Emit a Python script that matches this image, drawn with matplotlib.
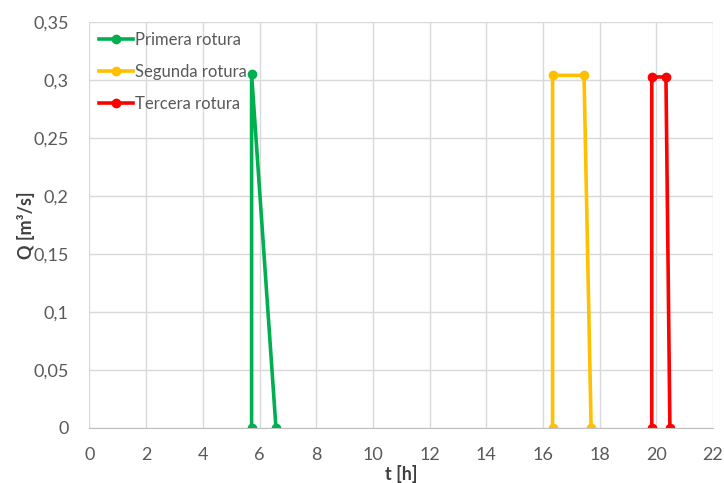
import matplotlib.pyplot as plt
from matplotlib.ticker import FuncFormatter, MultipleLocator

plt.rcParams['font.family'] = ['Lato', 'DejaVu Sans']

# caudal de rotura en cada evento
t1 = [5.72, 5.72, 6.58]
q1 = [0, 0.305, 0]
t2 = [16.34, 16.34, 17.45, 17.70]
q2 = [0, 0.304, 0.304, 0]
t3 = [19.84, 19.84, 20.34, 20.48]
q3 = [0, 0.3026, 0.3026, 0]

nombres = ['Primera rotura', 'Segunda rotura', 'Tercera rotura']
colores = ['#00B050', '#FFC000', '#FF0000']

fig = plt.figure(figsize=(7.24, 4.83), dpi=100)
ax = fig.add_axes([0.1236, 0.1139, 0.8612, 0.8406])

for t, q, nom, col in zip([t1, t2, t3], [q1, q2, q3], nombres, colores):
    ax.plot(t, q, color=col, lw=2.6, marker='o', ms=6, label=nom)

ax.set_xlim(0, 22)
ax.set_ylim(0, 0.35)
ax.xaxis.set_major_locator(MultipleLocator(2))
ax.yaxis.set_major_locator(MultipleLocator(0.05))
ax.yaxis.set_major_formatter(FuncFormatter(lambda v, p: ('%g' % round(v, 2)).replace('.', ',')))

ax.grid(True, color='#D9D9D9', lw=1)
ax.set_axisbelow(True)
for s in ['top', 'right', 'left']:
    ax.spines[s].set_visible(False)
ax.spines['bottom'].set_color('#BFBFBF')
ax.tick_params(length=0, labelsize=13, colors='#595959')
ax.tick_params(axis='x', pad=14)
ax.tick_params(axis='y', pad=15)

ax.set_xlabel('t [h]', fontsize=13, fontweight='bold', color='#404040', labelpad=1)
ax.set_ylabel('Q [m³/s]', fontsize=13, fontweight='bold', color='#404040', labelpad=-1)

leg = ax.legend(loc='upper left', frameon=False, fontsize=12, handlelength=2.0,
                labelspacing=0.95, borderaxespad=0.3, handletextpad=0.15,
                borderpad=0.3, labelcolor='#595959')

fig.savefig('out.png', dpi=100)
